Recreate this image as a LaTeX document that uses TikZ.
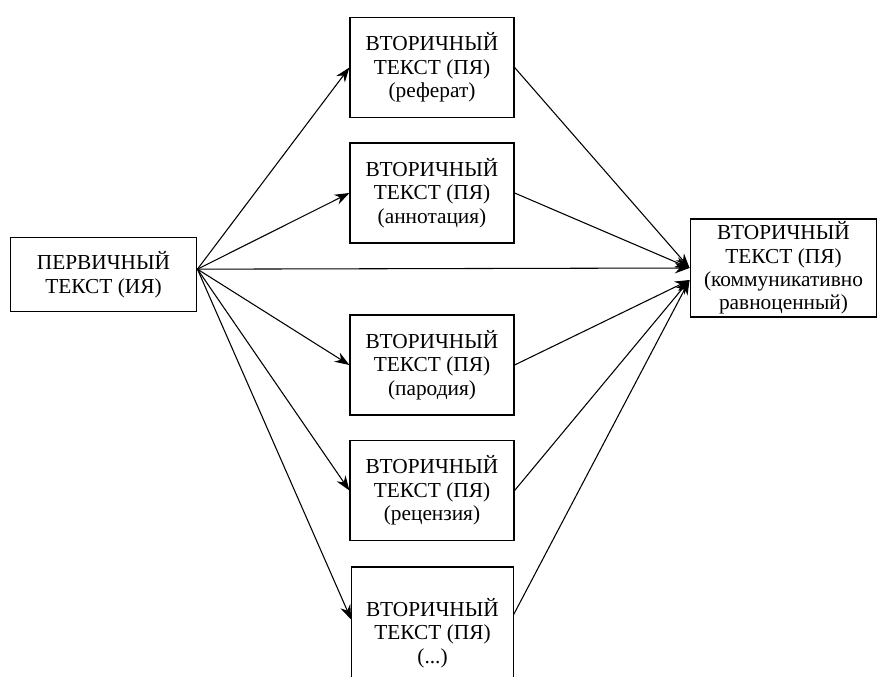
\documentclass[tikz,border=0pt]{standalone}
\usepackage{fontspec}
\setmainfont{Liberation Serif}
\usepackage{tikz}
\usetikzlibrary{arrows.meta}
\tikzset{tbox/.style = {draw, line width = 0.9pt, align = center, inner sep = 1pt, font = \fontsize{16}{17.6}\selectfont},
         arr/.style = {line width = 0.8pt, -{Stealth[length = 11pt, width = 8pt]}}}

\begin{document}
\begin{tikzpicture}[x = 0.75pt, y = -0.75pt]
    \clip (0, 0) rectangle (888, 677);
    \node [tbox, minimum width = 140pt, minimum height = 56pt] (prim) at (103.5, 274.5) {ПЕРВИЧНЫЙ\\ТЕКСТ (ИЯ)};
    \node [tbox, minimum width = 140pt, minimum height = 73.5pt] (R) at (783.5, 268) {ВТОРИЧНЫЙ\\ТЕКСТ (ПЯ)\\(коммуникативно\\равноценный)};
    \coordinate (src) at ([yshift = 4pt] prim.east);
    \coordinate (r1) at (R.west);
    \coordinate (r2) at ([yshift = -9pt] R.west);
    \draw [arr] (src) -- (r1);
    \foreach \y\i\t\r in {67.5/1/реферат/r1, 193/2/аннотация/r1, 365/3/пародия/r2, 490.5/4/рецензия/r2} {
        \node [tbox, minimum width = 123pt, minimum height = 75pt] (b\i) at (432, \y) {ВТОРИЧНЫЙ\\ТЕКСТ (ПЯ)\\(\t)};
        \draw [arr] (src) -- (b\i.west);
        \draw [arr] (b\i.east) -- (\r);
    }
    \node [tbox, minimum width = 121pt, minimum height = 99pt] (b5) at (432.5, 633) {ВТОРИЧНЫЙ\\ТЕКСТ (ПЯ)\\(...)};
    \draw [arr] (src) -- ([yshift = 10pt] b5.west);
    \draw [arr] ([yshift = 14pt] b5.east) -- (r2);
\end{tikzpicture}
\end{document}
